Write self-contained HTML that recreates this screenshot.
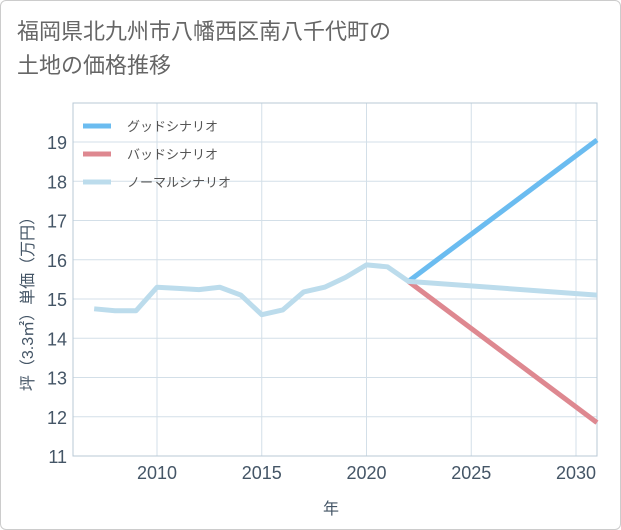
<!DOCTYPE html>
<html><head><meta charset="utf-8"><style>
html,body{margin:0;padding:0;background:#fff}
#wrap{position:relative;width:619px;height:528px;border:1px solid #ccc;border-radius:6px;overflow:hidden;background:#fff}
.t{font-family:"Liberation Sans","Noto Sans CJK JP",sans-serif}
</style></head><body>
<div id="wrap">
<div class="t" style="position:absolute;left:16px;top:14px;font-size:22px;line-height:34px;color:#666">福岡県北九州市八幡西区南八千代町の<br>土地の価格推移</div>
<svg id="c" width="621" height="530" style="position:absolute;left:-1px;top:-1px"></svg>
</div>
<script>
const years=[2007,2008,2009,2010,2011,2012,2013,2014,2015,2016,2017,2018,2019,2020,2021,2022,2031];
const normal=[14.75,14.7,14.7,15.3,15.27,15.24,15.3,15.1,14.6,14.72,15.18,15.3,15.55,15.87,15.82,15.45,15.1];
const goodYears=[2022,2031];const good=[15.45,19.05];
const badYears=[2022,2031];const bad=[15.45,11.85];
const yTicks=[11,12,13,14,15,16,17,18,19];
const xTicks=[2010,2015,2020,2025,2030];
const L=73,R=597,T=103,B=456;
const xs=v=>157+(v-2010)*(576-157)/20;
const ys=v=>456-(v-11)*(456-142)/8;
const svg=document.getElementById('c');const NS='http://www.w3.org/2000/svg';
function mk(t,a,p){const e=document.createElementNS(NS,t);for(const k in a)e.setAttribute(k,a[k]);(p||svg).appendChild(e);return e;}
const xa=[];for(let y=2006;y<=2031;y++)xa.push(y);
let e;
for(const y of yTicks){e=mk('line',{x1:L,x2:R,y1:ys(y),y2:ys(y),stroke:'#d3dfe8','stroke-width':1});

e=mk('text',{x:L-6,y:ys(y)+7,'text-anchor':'end','font-size':18,fill:'#445566',class:'t'});e.textContent=y;
}
for(const x of xTicks){e=mk('line',{x1:xs(x),x2:xs(x),y1:T,y2:B,stroke:'#d3dfe8','stroke-width':1});

e=mk('text',{x:xs(x),y:B+23,'text-anchor':'middle','font-size':18,fill:'#445566',class:'t'});e.textContent=x;
}
e=mk('rect',{x:L,y:T,width:R-L,height:B-T,fill:'none',stroke:'#b8c8d6'});

function line(xv,yv,col,name){const p=xv.map((x,i)=>xs(x)+','+ys(yv[i])).join(' ');
const el=mk('polyline',{points:p,fill:'none',stroke:col,'stroke-width':5,'stroke-linejoin':'round'});
}
line(goodYears,good,'#6bbcf0','good-scenario-line');
line(badYears,bad,'#de8890','bad-scenario-line');
line(years,normal,'#bcdcec','normal-scenario-line');
const leg=[['グッドシナリオ','#6bbcf0'],['バッドシナリオ','#de8890'],['ノーマルシナリオ','#bcdcec']];
leg.forEach((l,i)=>{const y=126+i*28;
e=mk('line',{x1:83,x2:111,y1:y,y2:y,stroke:l[1],'stroke-width':5});

e=mk('text',{x:127,y:y+5,'font-size':13,fill:'#555',class:'t'});e.textContent=l[0];
});
e=mk('text',{x:331,y:514,'text-anchor':'middle','font-size':16,fill:'#445566',class:'t'});e.textContent='年';

e=mk('text',{x:0,y:0,'text-anchor':'middle','font-size':16,fill:'#445566',class:'t',transform:'translate(33,300) rotate(-90)'});e.textContent='坪（3.3㎡）単価（万円）';

</script>
</body></html>
